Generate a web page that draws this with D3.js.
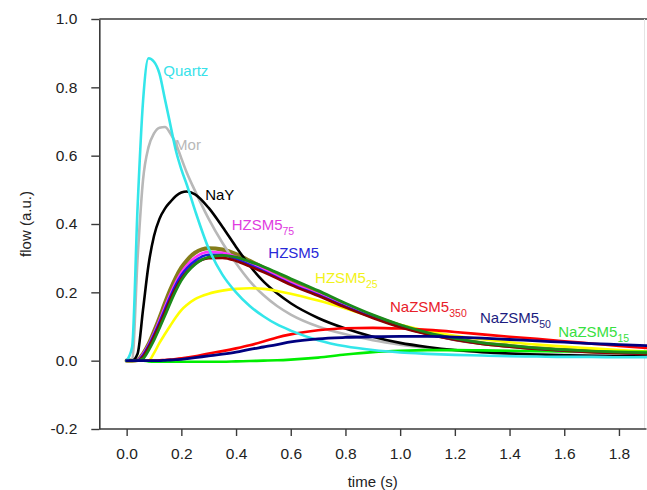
<!DOCTYPE html>
<html><head><meta charset="utf-8">
<script src="https://cdn.jsdelivr.net/npm/d3@7"></script>
<style>
body{margin:0;background:#fff}
svg{display:block}
text{font-family:Arial,"Liberation Sans",sans-serif}
</style>
</head><body>
<svg id="chart" width="647" height="490"></svg>
<script>
// ---- data ----
const time = [0, 0.02, 0.04, 0.06, 0.08, 0.1, 0.12, 0.14, 0.16, 0.18, 0.2, 0.22, 0.25, 0.3, 0.35, 0.4, 0.45, 0.5, 0.55, 0.6, 0.7, 0.8, 0.9, 1.0, 1.1, 1.2, 1.3, 1.4, 1.5, 1.6, 1.7, 1.8, 1.9];

const quartz   = [0, 0.04, 0.45, 0.76, 0.885, 0.875, 0.84, 0.765, 0.69, 0.615, 0.56, 0.515, 0.44, 0.328, 0.252, 0.2, 0.16, 0.13, 0.106, 0.088, 0.06, 0.042, 0.031, 0.024, 0.02, 0.017, 0.015, 0.013, 0.012, 0.011, 0.011, 0.01, 0.01];
const mor      = [0, 0, 0.3, 0.53, 0.625, 0.665, 0.682, 0.684, 0.665, 0.635, 0.592, 0.55, 0.497, 0.415, 0.345, 0.285, 0.233, 0.192, 0.16, 0.135, 0.1, 0.077, 0.06, 0.047, 0.037, 0.03, 0.025, 0.021, 0.019, 0.017, 0.016, 0.015, 0.014];
const naY      = [0, 0, 0.02, 0.15, 0.28, 0.365, 0.415, 0.445, 0.465, 0.482, 0.492, 0.495, 0.487, 0.447, 0.392, 0.333, 0.278, 0.232, 0.197, 0.168, 0.125, 0.094, 0.07, 0.052, 0.04, 0.031, 0.025, 0.021, 0.018, 0.016, 0.014, 0.013, 0.012];
const olive    = [0, 0, 0.002, 0.02, 0.048, 0.085, 0.125, 0.168, 0.208, 0.243, 0.272, 0.293, 0.316, 0.329, 0.325, 0.312, 0.292, 0.272, 0.252, 0.232, 0.198, 0.162, 0.13, 0.102, 0.08, 0.063, 0.051, 0.043, 0.036, 0.031, 0.027, 0.024, 0.022];
const hzsm5_75 = [0, 0, 0.002, 0.02, 0.046, 0.08, 0.118, 0.158, 0.196, 0.23, 0.258, 0.279, 0.302, 0.318, 0.316, 0.304, 0.285, 0.266, 0.247, 0.228, 0.195, 0.16, 0.128, 0.1, 0.079, 0.062, 0.05, 0.042, 0.035, 0.03, 0.026, 0.023, 0.021];
const hzsm5    = [0, 0, 0.001, 0.016, 0.043, 0.076, 0.112, 0.15, 0.188, 0.222, 0.25, 0.27, 0.292, 0.31, 0.309, 0.298, 0.28, 0.262, 0.243, 0.224, 0.192, 0.158, 0.127, 0.1, 0.079, 0.062, 0.05, 0.042, 0.035, 0.03, 0.026, 0.023, 0.021];
const maroon   = [0, 0, 0, 0.012, 0.038, 0.07, 0.105, 0.142, 0.18, 0.212, 0.24, 0.26, 0.283, 0.3, 0.301, 0.292, 0.276, 0.259, 0.241, 0.222, 0.19, 0.156, 0.125, 0.098, 0.077, 0.061, 0.049, 0.041, 0.034, 0.029, 0.025, 0.022, 0.02];
const dkgreen  = [0, 0, 0, 0.006, 0.03, 0.06, 0.095, 0.132, 0.17, 0.205, 0.235, 0.258, 0.282, 0.303, 0.308, 0.303, 0.29, 0.275, 0.258, 0.24, 0.205, 0.168, 0.134, 0.105, 0.082, 0.065, 0.052, 0.044, 0.037, 0.032, 0.028, 0.025, 0.023];
const hzsm5_25 = [0, 0, 0, 0, 0, 0.022, 0.052, 0.078, 0.103, 0.127, 0.148, 0.163, 0.18, 0.196, 0.205, 0.21, 0.212, 0.21, 0.204, 0.196, 0.176, 0.153, 0.128, 0.105, 0.087, 0.073, 0.063, 0.054, 0.047, 0.041, 0.036, 0.031, 0.027];
const nazsm5_350 = [0, 0, 0, 0, 0, 0, 0.001, 0.002, 0.003, 0.005, 0.007, 0.009, 0.013, 0.021, 0.028, 0.036, 0.045, 0.056, 0.068, 0.077, 0.089, 0.095, 0.096, 0.094, 0.09, 0.084, 0.077, 0.07, 0.064, 0.057, 0.05, 0.043, 0.037];
const nazsm5_15  = [0, 0, 0, 0, -0.002, -0.003, -0.003, -0.003, -0.003, -0.003, -0.003, -0.003, -0.003, -0.003, -0.003, -0.002, -0.001, 0, 0.001, 0.003, 0.009, 0.018, 0.025, 0.029, 0.031, 0.031, 0.03, 0.029, 0.028, 0.027, 0.027, 0.026, 0.026];
const nazsm5_50  = [0, 0, 0, 0, 0, 0, 0, 0.001, 0.002, 0.003, 0.004, 0.006, 0.009, 0.014, 0.019, 0.025, 0.033, 0.04, 0.047, 0.055, 0.064, 0.068, 0.07, 0.071, 0.071, 0.069, 0.066, 0.062, 0.058, 0.054, 0.05, 0.047, 0.044];

const xTicks = [0.0, 0.2, 0.4, 0.6, 0.8, 1.0, 1.2, 1.4, 1.6, 1.8];
const yTicks = [-0.2, 0.0, 0.2, 0.4, 0.6, 0.8, 1.0];

const labelNames = ["Quartz", "Mor", "NaY", "HZSM5", "HZSM5", "HZSM5", "NaZSM5", "NaZSM5", "NaZSM5"];
const labelSubs  = ["", "", "", "75", "", "25", "350", "50", "15"];
const labelT     = [0.134, 0.177, 0.287, 0.384, 0.518, 0.689, 0.963, 1.292, 1.578];
const labelV     = [0.832, 0.617, 0.470, 0.381, 0.300, 0.227, 0.143, 0.109, 0.070];
const labelColors = ["#38e2ea", "#b8b8b8", "#000000", "#e03ce0", "#2828d8", "#f2f21a", "#e8202a", "#1c1c80", "#38e040"];

// series in drawing order
const series = [
  {v: olive,      color: "#857d1a", w: 4.2},
  {v: mor,        color: "#b8b8b8", w: 2.6},
  {v: naY,        color: "#000000", w: 2.6},
  {v: hzsm5_25,   color: "#ffff00", w: 2.6},
  {v: nazsm5_350, color: "#ff0000", w: 2.6},
  {v: nazsm5_15,  color: "#00ee00", w: 2.6},
  {v: hzsm5_75,   color: "#ff33ff", w: 2.6},
  {v: hzsm5,      color: "#1a1ae6", w: 2.6},
  {v: maroon,     color: "#8b0000", w: 2.6},
  {v: dkgreen,    color: "#1a8a1a", w: 2.8},
  {v: quartz,     color: "#33e6ea", w: 2.6},
  {v: nazsm5_50,  color: "#000080", w: 2.8}
];

// ---- layout ----
const svg = d3.select("#chart");
const x = d3.scaleLinear().domain([-0.1, 1.9]).range([99.3, 646.3]);
const y = d3.scaleLinear().domain([-0.2, 1.0]).range([429, 19]);
const axisColor = "#3a3a3a";

// frame (top, faint right)
svg.append("line").attr("x1", x(-0.1)).attr("x2", 647).attr("y1", y(1.0)).attr("y2", y(1.0))
  .attr("stroke", axisColor).attr("stroke-width", 1.6);
svg.append("line").attr("x1", 644.5).attr("x2", 644.5).attr("y1", y(1.0)).attr("y2", y(-0.2))
  .attr("stroke", "#e4e4e4").attr("stroke-width", 1);

// curves
const line = d3.line()
  .x((d, i) => x(time[i]))
  .y(d => y(d))
  .curve(d3.curveMonotoneX);

svg.append("clipPath").attr("id", "clip").append("rect")
  .attr("x", x(-0.1)).attr("y", y(1.0)).attr("width", 647 - x(-0.1)).attr("height", y(-0.2) - y(1.0));

const g = svg.append("g").attr("clip-path", "url(#clip)");
series.forEach(s => {
  g.append("path").datum(s.v)
    .attr("d", line)
    .attr("fill", "none")
    .attr("stroke", s.color)
    .attr("stroke-width", s.w)
    .attr("stroke-linejoin", "round")
    .attr("stroke-linecap", "round");
});

// axes
const yAxis = d3.axisLeft(y).tickValues(yTicks).tickSize(8).tickSizeOuter(0).tickPadding(14)
  .tickFormat(d => d.toFixed(1));
const xAxis = d3.axisBottom(x).tickValues(xTicks).tickSize(7).tickSizeOuter(0).tickPadding(12)
  .tickFormat(d => d.toFixed(1));

const gy = svg.append("g").attr("transform", `translate(${x(-0.1)},0)`).call(yAxis);
const gx = svg.append("g").attr("transform", `translate(0,${y(-0.2)})`).call(xAxis);
[gx, gy].forEach(a => {
  a.select(".domain").attr("stroke", axisColor).attr("stroke-width", 1.6);
  a.selectAll(".tick line").attr("stroke", axisColor).attr("stroke-width", 1.4);
  a.selectAll(".tick text").attr("fill", "#222").style("font-size", "15.5px")
    .style("font-family", "Arial, 'Liberation Sans', sans-serif");
});
gx.select(".domain").attr("d", `M${x(-0.1)},0H646.5`);

// axis titles
svg.append("text").attr("x", (x(-0.1) + 646) / 2).attr("y", 487)
  .attr("text-anchor", "middle").attr("fill", "#222").style("font-size", "15px").text("time (s)");
svg.append("text").attr("transform", `translate(31,${(y(1.0) + y(-0.2)) / 2}) rotate(-90)`)
  .attr("text-anchor", "middle").attr("fill", "#222").style("font-size", "15px").text("flow (a.u.)");

// series labels
labelNames.forEach((name, i) => {
  const t = svg.append("text").attr("x", x(labelT[i])).attr("y", y(labelV[i]))
    .attr("fill", labelColors[i]).style("font-size", "15px");
  t.append("tspan").text(name);
  if (labelSubs[i]) {
    t.append("tspan").attr("dy", 5).style("font-size", "10.5px").text(labelSubs[i]);
  }
});
</script>
</body></html>
